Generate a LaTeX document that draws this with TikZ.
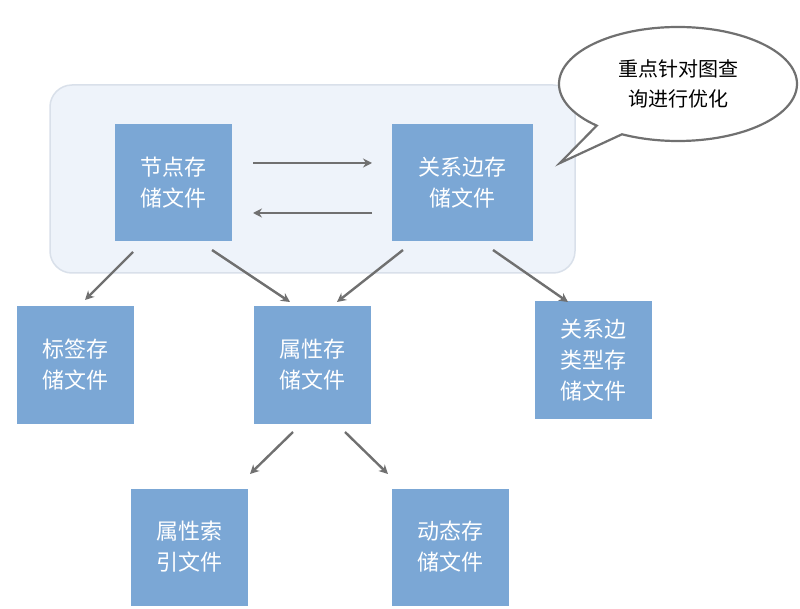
\documentclass[tikz,border=0pt]{standalone}
\usepackage{fontspec}
\newfontfamily\cjk{Noto Sans CJK SC}
\usetikzlibrary{shapes.callouts,arrows.meta}
\definecolor{boxc}{HTML}{7BA7D5}
\definecolor{bgc}{HTML}{EEF3FA}
\definecolor{bgl}{HTML}{D9E0EA}
\definecolor{arr}{HTML}{707070}
\begin{document}
\begin{tikzpicture}[x=1pt,y=-1pt,
 box/.style={fill=boxc,draw=none,text=white,minimum width=117pt,minimum height=117pt,align=center,font=\cjk\fontsize{22}{31}\selectfont,inner sep=0pt},
 ar/.style={draw=arr,line width=2.4pt,-{Stealth[length=9pt,width=9pt]}}]
\useasboundingbox (0,0) rectangle (800,609);
\fill[white] (0,0) rectangle (800,609);
\node[draw=bgl,line width=1.5pt,fill=bgc,rounded corners=22pt,minimum width=525pt,minimum height=188pt] (bg) at (312.5,179) {};
\node[box] (n) at (173,183) {节点存\\储文件};
\node[box,minimum width=141pt] (r) at (462,183) {关系边存\\储文件};
\node[box] (l) at (75,365) {标签存\\储文件};
\node[box] (p) at (312,365) {属性存\\储文件};
\node[box] (t) at (593,360) {关系边\\类型存\\储文件};
\node[box] (i) at (189,547) {属性索\\引文件};
\node[box] (d) at (450,547) {动态存\\储文件};
\node[ellipse callout,draw=arr,line width=2.2pt,fill=white,minimum width=238pt,minimum height=114pt,
 callout absolute pointer={(560,163)},align=center,font=\cjk\fontsize{20}{30}\selectfont] (c) at (678,84) {重点针对图查\\询进行优化};
\foreach \n/\x/\y in {a1/253/163,a2/372/163,b1/372/213,b2/253/213,c1/133/252,c2/85/300,d1/212/250,d2/290/302,e1/403/250,e2/337/302,f1/493/250,f2/568/302,g1/293/432,g2/250/474,h1/345/432,h2/388/474}
  \coordinate (\n) at (\x,\y);
\draw[ar] (a1)--(a2);
\draw[ar] (b1)--(b2);
\draw[ar] (c1)--(c2);
\draw[ar] (d1)--(d2);
\draw[ar] (e1)--(e2);
\draw[ar] (f1)--(f2);
\draw[ar] (g1)--(g2);
\draw[ar] (h1)--(h2);
\end{tikzpicture}
\end{document}
